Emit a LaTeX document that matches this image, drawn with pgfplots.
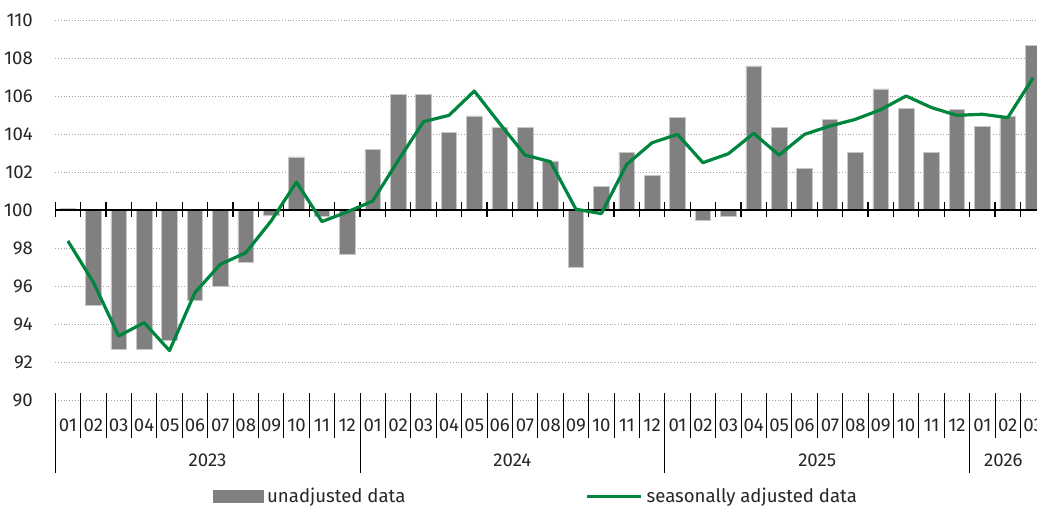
\documentclass[border=0pt]{standalone}
\usepackage{pgfplots}
\usepackage{pgfplotstable}
\pgfplotsset{compat=1.18}
\usepackage{fontspec}
\setmainfont{Fira Sans}
\definecolor{barg}{RGB}{128,128,128}
\definecolor{lineg}{RGB}{0,133,62}

\pgfplotstableread{
x ua sa
0 100.1 98.37
1 95.0 96.2
2 92.67 93.37
3 92.67 94.07
4 93.14 92.6
5 95.25 95.65
6 95.97 97.14
7 97.26 97.75
8 99.72 99.42
9 102.79 101.47
10 99.68 99.39
11 97.67 99.9
12 103.19 100.47
13 106.09 102.6
14 106.09 104.65
15 104.07 104.98
16 104.95 106.26
17 104.33 104.55
18 104.33 102.89
19 102.58 102.54
20 96.96 100.04
21 101.23 99.81
22 103.05 102.4
23 101.84 103.54
24 104.86 103.98
25 99.47 102.49
26 99.68 102.96
27 107.58 104.03
28 104.33 102.89
29 102.17 103.98
30 104.75 104.42
31 103.05 104.77
32 106.37 105.28
33 105.35 106.0
34 103.05 105.39
35 105.28 104.98
36 104.39 105.04
37 104.95 104.86
38 108.67 106.96
}\datatable

\begin{document}
\fontsize{9.3pt}{11pt}\selectfont
\begin{tikzpicture}
\begin{axis}[
  x=12.7pt, y=9.5pt,
  xmin=-0.5, xmax=38.15, ymin=90, ymax=110,
  y coord trafo/.code={\pgfmathparse{#1-100}},
  y coord inv trafo/.code={\pgfmathparse{#1+100}},
  axis line style={draw=none},
  tick style={draw=none},
  ytick={90,92,...,110},
  ymajorgrids,
  grid style={densely dotted, color=black!35, line width=0.4pt},
  xtick={0,...,38},
  xticklabels={01,02,03,04,05,06,07,08,09,10,11,12,01,02,03,04,05,06,07,08,09,10,11,12,01,02,03,04,05,06,07,08,09,10,11,12,01,02,03},
  xticklabel style={anchor=center, inner sep=0pt, yshift=-12.5pt},
  yticklabel style={anchor=east, inner sep=0pt, xshift=-11pt},
  /pgf/number format/assume math mode=true,
  ticklabel style={font=\fontsize{9.3pt}{11pt}\selectfont, text=black!85},
  legend style={at={(axis description cs:0.4905,-0.2535)}, anchor=center, draw=none, fill=none,
    legend columns=2, font=\fontsize{9.3pt}{11pt}\selectfont, text=black!85,
    /tikz/every even column/.append style={column sep=88pt}},
]
\addplot[ybar, bar width=7.85pt, bar shift=0pt, fill=barg, draw=black!22, line width=0.3pt,
  legend image code/.code={\fill[barg] (0pt,-3pt) rectangle (25pt,3pt);}]
  table[x=x, y=ua]{\datatable};
\addlegendentry{unadjusted data}
\draw[line width=0.8pt] (axis cs:-0.5,100) -- (axis cs:38.15,100);
\pgfplotsinvokeforeach{-0.5,0.5,...,37.5}{
  \draw[line width=0.6pt] ([yshift=3.75pt]axis cs:#1,100) -- ([yshift=-3.75pt]axis cs:#1,100);
}
\addplot[lineg, line width=1.6pt, mark=none, line join=round,
  legend image code/.code={\draw[lineg, line width=1.6pt] (0pt,0pt) -- (27pt,0pt);}]
  table[x=x, y=sa]{\datatable};
\addlegendentry{seasonally adjusted data}
\coordinate (O) at (rel axis cs:0,0);
\end{axis}
\begin{scope}[shift={(O)}, x=12.7pt]
  \foreach \k in {0,...,38} \draw[line width=0.5pt] (\k,3.5pt) -- (\k,-19pt);
  \foreach \k in {0,12,24,36} \draw[line width=0.5pt] (\k,3.5pt) -- (\k,-36.5pt);
  \node[text=black!85] at (6,-30pt) {2023};
  \node[text=black!85] at (18,-30pt) {2024};
  \node[text=black!85] at (30,-30pt) {2025};
  \node[text=black!85] at (37.33,-30pt) {2026};
\end{scope}
\pgfresetboundingbox
\useasboundingbox[shift={(O)}] (-27.6pt,-53pt) rectangle (490.9pt,200pt);
\end{tikzpicture}
\end{document}
